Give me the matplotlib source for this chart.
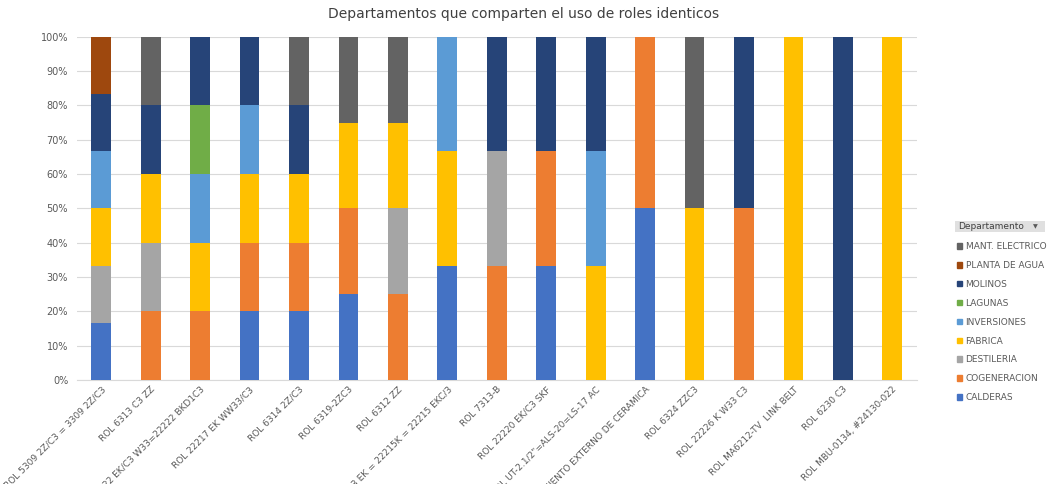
import numpy as np
import matplotlib.pyplot as plt
from matplotlib.patches import Patch, Rectangle

categorias = ['ROL 5309 2Z/C3 = 3309 2Z/C3', 'ROL 6313 C3 ZZ', 'ROL 22222 EK/C3 W33=22222 BKD1C3',
              'ROL 22217 EK WW33/C3', 'ROL 6314 2Z/C3', 'ROL 6319-2ZC3', 'ROL 6312 ZZ',
              'ROL 22215 W33 EK = 22215K = 22215 EKC/3', 'ROL 7313-B', 'ROL 22220 EK/C3 SKF',
              'ROL UT-2.1/2"=ALS-20=LS-17 AC', 'ROL RODAMIENTO EXTERNO DE CERAMICA', 'ROL 6324 ZZC3',
              'ROL 22226 K W33 C3', 'ROL MA6212-TV  LINK BELT', 'ROL 6230 C3', 'ROL MBU-0134, #24130-022']

departamentos = ['CALDERAS', 'COGENERACION', 'DESTILERIA', 'FABRICA', 'INVERSIONES',
                 'LAGUNAS', 'MOLINOS', 'PLANTA DE AGUA', 'MANT. ELECTRICO']
colores = ['#4472C4', '#ED7D31', '#A5A5A5', '#FFC000', '#5B9BD5',
           '#70AD47', '#264478', '#9E480E', '#636363']

# cantidad de roles por departamento (se normaliza a 100%)
calderas     = [1, 0, 0, 1, 1, 1, 0, 1, 0, 1, 0, 1, 0, 0, 0, 0, 0]
cogeneracion = [0, 1, 1, 1, 1, 1, 1, 0, 1, 1, 0, 1, 0, 1, 0, 0, 0]
destileria   = [1, 1, 0, 0, 0, 0, 1, 0, 1, 0, 0, 0, 0, 0, 0, 0, 0]
fabrica      = [1, 1, 1, 1, 1, 1, 1, 1, 0, 0, 1, 0, 1, 0, 1, 0, 1]
inversiones  = [1, 0, 1, 1, 0, 0, 0, 1, 0, 0, 1, 0, 0, 0, 0, 0, 0]
lagunas      = [0, 0, 1, 0, 0, 0, 0, 0, 0, 0, 0, 0, 0, 0, 0, 0, 0]
molinos      = [1, 1, 1, 1, 1, 0, 0, 0, 1, 1, 1, 0, 0, 1, 0, 1, 0]
planta_agua  = [1, 0, 0, 0, 0, 0, 0, 0, 0, 0, 0, 0, 0, 0, 0, 0, 0]
mant_elec    = [0, 1, 0, 0, 1, 1, 1, 0, 0, 0, 0, 0, 1, 0, 0, 0, 0]

series = np.array([calderas, cogeneracion, destileria, fabrica, inversiones,
                   lagunas, molinos, planta_agua, mant_elec], dtype=float)
pct = series / series.sum(axis=0)

fig = plt.figure(figsize=(10.48, 4.84), dpi=100)
ax = fig.add_axes([0.073, 0.215, 0.802, 0.709])

x = np.arange(len(categorias))
base = np.zeros(len(categorias))
for i in range(len(departamentos)):
    ax.bar(x, pct[i], 0.4, bottom=base, color=colores[i], zorder=3)
    base += pct[i]

ax.set_xlim(-0.5, len(categorias) - 0.5)
ax.set_ylim(0, 1)
ax.set_yticks(np.arange(0, 1.01, 0.1))
ax.set_yticklabels(['%d%%' % round(v * 100) for v in np.arange(0, 1.01, 0.1)])
ax.yaxis.grid(True, color='#D9D9D9', linewidth=0.8, zorder=0)
for s in ['top', 'right', 'left']:
    ax.spines[s].set_visible(False)
ax.spines['bottom'].set_color('#D9D9D9')
ax.tick_params(axis='both', length=0, colors='#595959', labelsize=7)
ax.tick_params(axis='y', pad=6)
ax.set_xticks(x)
ax.set_xticklabels(categorias, rotation=45, ha='right', rotation_mode='anchor', fontsize=6.5)

fig.text(0.5, 0.972, 'Departamentos que comparten el uso de roles identicos',
         ha='center', va='center', fontsize=10, color='#404040')

# leyenda (cabecera tipo filtro de Excel)
fig.patches.append(Rectangle((0.911, 0.52), 0.086, 0.024, transform=fig.transFigure,
                             facecolor='#E0E0E0', edgecolor='none'))
fig.text(0.914, 0.532, 'Departamento', fontsize=6.5, color='#404040', va='center')
fig.text(0.988, 0.532, '\u25bc', fontsize=4.5, color='#595959', va='center', ha='center')
handles = [Patch(color=colores[i], label=departamentos[i]) for i in range(len(departamentos))][::-1]
fig.legend(handles=handles, loc='upper left', bbox_to_anchor=(0.905, 0.517), frameon=False,
           fontsize=6.5, labelcolor='#595959', handlelength=0.6, handleheight=0.6,
           handletextpad=0.4, labelspacing=1.1)

plt.savefig('out.png', dpi=100)
